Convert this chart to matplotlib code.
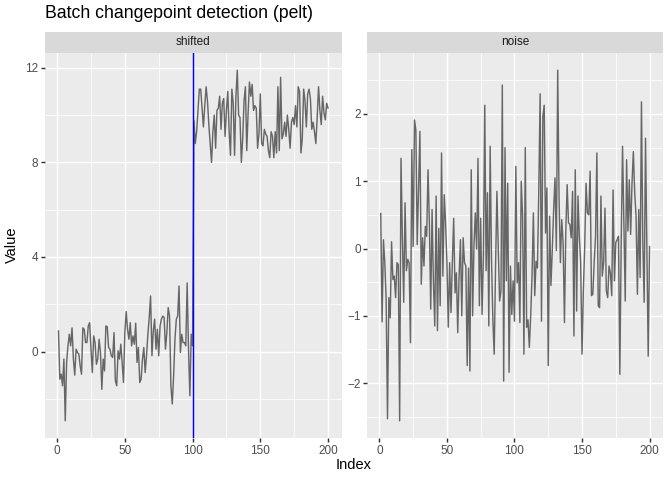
import matplotlib
matplotlib.use("Agg")
import matplotlib.pyplot as plt
import numpy as np

# ---- data ----
index = list(range(1, 201))

shifted_first = [0.87, -1.17, -0.96, -1.45, -0.32, -2.93, -0.46, 0.24, 0.73, 0.24,
                 1.0, -0.3, -1.0, 0.1, -0.04, -0.1, -0.6, -0.96, 1.0, 0.94,
                 0.38, 0.38, 1.08, 1.22, 0.1, -0.89, 0.66, 0.38, -0.54, -0.32,
                 0.52, -0.04, -1.6, -0.32, -0.82, 1.08, 1.05, 0.17, 0.1, -0.18,
                 -0.25, 0.8, -1.24, -1.45, 0.03, -0.32, 0.31, -0.46, -1.31, 0.8,
                 1.69, 0.94, 0.52, 1.22, 0.24, 0.66, 0.31, 1.2, -0.46, 0.17,
                 -1.31, -1.17, -0.32, 0.17, -0.89, -0.18, 0.73, 1.44, 2.35, -0.18,
                 0.87, 1.37, 0.1, 0.94, -0.18, 1.08, 1.37, 1.5, 1.44, 0.1,
                 0.8, 1.86, 1.5, -1.45, -2.22, -1.03, 0.52, 1.37, 1.5, 2.77,
                 -0.04, 0.73, 0.38, 0.38, 0.24, 2.9, 0.1, -1.87, 0.73, 0.24]
shifted_second = [9.77, 8.8, 9.3, 10.2, 11.1, 11.1, 10.3, 9.5, 10.4, 11.2,
                  10.6, 9.6, 8.8, 8.0, 9.3, 10.0, 8.6, 10.2, 10.3, 10.8,
                  9.4, 10.5, 10.7, 9.1, 10.2, 11.0, 9.3, 8.3, 11.1, 10.5,
                  8.3, 10.8, 11.9, 10.0, 9.9, 8.0, 9.0, 10.6, 11.2, 8.5,
                  10.1, 11.4, 10.8, 11.3, 10.2, 10.4, 10.3, 8.6, 9.2, 10.9,
                  8.8, 8.7, 9.4, 9.2, 9.1, 8.5, 8.2, 9.3, 9.1, 8.2,
                  9.3, 8.4, 11.2, 8.5, 11.6, 9.0, 9.2, 9.7, 9.1, 10.0,
                  9.4, 8.6, 9.7, 9.9, 9.6, 10.4, 9.5, 11.2, 11.0, 8.4,
                  9.0, 11.1, 10.6, 9.5, 10.9, 11.1, 10.7, 9.4, 9.7, 9.3,
                  8.8, 9.9, 11.2, 10.2, 9.6, 10.8, 10.1, 9.8, 10.5, 10.3]
shifted = shifted_first + shifted_second

noise = [0.52, -1.09, 0.13, -0.21, -0.76, -2.53, -0.73, -1.03, 0.1, -0.46,
         -0.41, -0.73, -0.21, -0.24, -2.56, 1.34, 0.18, -0.8, 0.68, -0.33,
         -0.16, -0.21, -1.4, 1.47, 0.03, 1.91, 1.76, 0.06, 0.87, 1.74,
         -0.53, 0.16, -0.26, 0.33, 0.18, 1.17, 0.38, -0.9, 0.58, -0.5,
         -1.15, 0.78, -1.22, 0.3, -0.85, 1.42, -0.41, 0.8, 0.38, -0.21,
         -1.17, -0.21, -0.95, -0.21, 0.45, -0.66, -0.36, -1.25, -0.41, 0.13,
         -1.0, 0.16, -0.21, -0.26, -1.74, -0.29, -1.82, 1.17, -1.0, 0.03,
         0.53, -0.01, 1.34, -0.85, 0.45, -0.98, -0.11, 2.13, -0.33, 0.83,
         -1.15, 1.52, -0.16, -1.06, -1.57, -0.26, 0.85, -0.01, -0.78, -0.63,
         2.43, -1.97, 1.5, -0.48, 0.97, -1.84, -0.26, -0.98, -0.48, -1.08,
         1.22, -0.51, -0.21, -1.1, 1.0, 0.48, -1.57, 1.5, -1.17, -1.06,
         -1.47, -1.0, -0.41, 0.53, -0.7, -0.19, -0.29, 0.87, 2.3, -1.08,
         1.96, 2.13, 0.23, 0.9, -1.74, 0.48, -0.55, -0.01, 0.58, 1.05,
         -0.03, 2.65, 0.75, -0.21, 0.43, 0.09, -1.1, 0.26, 0.95, 0.38,
         0.36, 0.16, 0.85, -1.3, 1.17, -0.93, 0.78, 0.18, -0.21, -1.57,
         -0.61, 0.03, 0.97, 0.53, 0.5, 1.15, -0.7, -0.68, -0.21, 0.18,
         1.42, -0.85, -0.88, 0.78, -0.41, -0.21, 0.6, -0.63, -0.73, -0.26,
         -0.36, -0.7, 0.87, -0.48, 0.09, 0.13, 0.18, -1.87, 0.09, 1.52,
         0.4, -0.78, 1.32, 0.26, 1.02, 0.21, 0.97, 1.44, 0.83, 0.48,
         -0.68, 0.58, -0.43, 2.18, 0.09, -0.8, 1.64, -0.01, -1.6, 0.03]

changepoint = 100
facets = ["shifted", "noise"]
title = "Batch changepoint detection (pelt)"
x_ticks = [0, 50, 100, 150, 200]
y_ticks = {"shifted": [0, 4, 8, 12], "noise": [-2, -1, 0, 1, 2]}
series = {"shifted": shifted, "noise": noise}

# ---- style ----
plt.rcParams['font.family'] = ['Liberation Sans', 'DejaVu Sans']
W, H = 672, 480
fig = plt.figure(figsize=(7, 5), dpi=96)

panel_bg = "#EBEBEB"
strip_bg = "#D9D9D9"
line_col = "#666666"

panels_px = {"shifted": (45, 341.5), "noise": (367.3, 663)}
top_px, bot_px = 52.7, 438.3
strip_top = 32

def expand(lo, hi, f=0.05):
    r = hi - lo
    return lo - f * r, hi + f * r

for name in facets:
    x0, x1 = panels_px[name]
    ax = fig.add_axes([x0 / W, 1 - bot_px / H, (x1 - x0) / W, (bot_px - top_px) / H])
    ax.set_facecolor(panel_bg)
    for s in ax.spines.values():
        s.set_visible(False)
    vals = series[name]
    ax.plot(index, vals, color=line_col, lw=1.07, zorder=3)
    if name == "shifted":
        ax.axvline(changepoint, color="#0000FF", lw=1.1, zorder=4, snap=True)
    ax.set_xlim(*expand(min(index), max(index)))
    ax.set_ylim(*expand(min(vals), max(vals)))
    ax.set_xticks(x_ticks)
    yt = y_ticks[name]
    ax.set_yticks(yt)
    step = yt[1] - yt[0]
    ax.set_xticks([t + 25 for t in x_ticks[:-1]], minor=True)
    ylo, yhi = ax.get_ylim()
    minors = [t + step / 2 for t in [yt[0] - step] + yt]
    ax.set_yticks([m for m in minors if ylo <= m <= yhi], minor=True)
    ax.grid(which="major", color="white", lw=1.07, zorder=0)
    ax.grid(which="minor", color="white", lw=0.53, zorder=0)
    ax.set_axisbelow(True)
    ax.tick_params(which="major", length=2.75, width=1.07, color="#333333",
                   labelsize=8.8, labelcolor="#4D4D4D", pad=2.2)
    ax.tick_params(which="minor", length=0)
    # strip
    sax = fig.add_axes([x0 / W, 1 - top_px / H, (x1 - x0) / W, (top_px - strip_top) / H])
    sax.set_facecolor(strip_bg)
    sax.set_xticks([]); sax.set_yticks([])
    for s in sax.spines.values():
        s.set_visible(False)
    sax.text(0.5, 0.5, name, ha="center", va="center", fontsize=8.8,
             color="#1A1A1A", transform=sax.transAxes)

fig.text(45 / W, 1 - 14 / H, title, ha="left", va="center", fontsize=13.2, color="black")
fig.text(354 / W, 1 - 465 / H, "Index", ha="center", va="center", fontsize=11)
fig.text(12 / W, 1 - 245 / H, "Value", ha="center", va="center", fontsize=11, rotation=90)

fig.savefig("out.png", dpi=96)
